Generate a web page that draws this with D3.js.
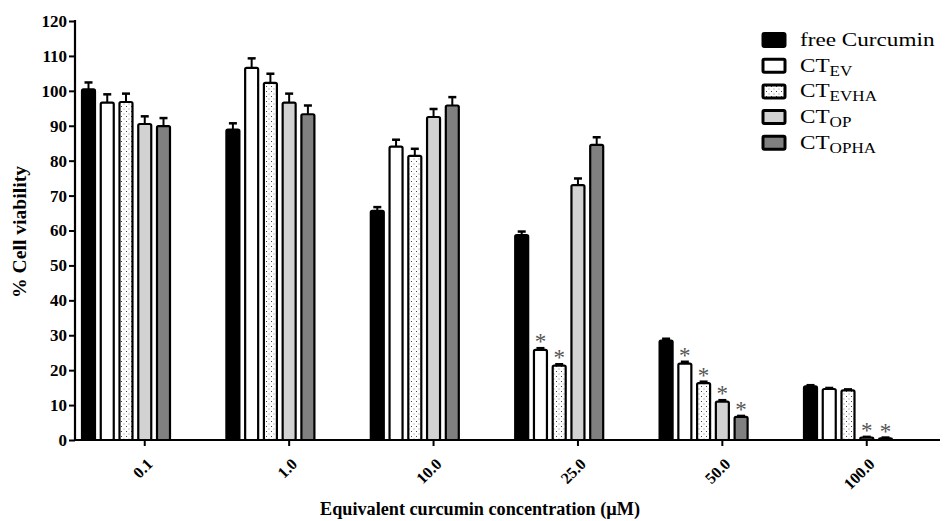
<!DOCTYPE html>
<html><head><meta charset="utf-8">
<script src="https://cdn.jsdelivr.net/npm/d3@7"></script>
<style>
body{margin:0;background:#fff;}
svg{display:block;}
text{font-family:"Liberation Serif","Times New Roman",serif;}
</style></head>
<body><svg id="chart" width="946" height="521"></svg>
<script>
const categories = ["0.1","1.0","10.0","25.0","50.0","100.0"];
const seriesKeys = ["free","EV","EVHA","OP","OPHA"];
const seriesNames = ["free Curcumin","CT|EV","CT|EVHA","CT|OP","CT|OPHA"];
const freeCurcumin = [100.4, 88.9, 65.6, 58.7, 28.5, 15.4];
const ctEV        = [96.6, 106.6, 84.0, 25.8, 21.9, 14.6];
const ctEVHA      = [96.8, 102.3, 81.4, 21.3, 16.3, 14.2];
const ctOP        = [90.5, 96.6, 92.5, 73.0, 11.0, 0.7];
const ctOPHA      = [89.9, 93.3, 95.8, 84.5, 6.6, 0.5];
const freeErr = [2.0, 1.8, 1.1, 1.0, 0.5, 0.3];
const evErr   = [2.4, 2.7, 2.0, 0.5, 0.5, 0.3];
const evhaErr = [2.4, 2.6, 2.0, 0.4, 0.4, 0.3];
const opErr   = [2.2, 2.6, 2.3, 1.9, 0.4, 0.2];
const ophaErr = [2.3, 2.5, 2.4, 2.2, 0.3, 0.2];
const sigEV   = [0,0,0,1,1,0];
const sigEVHA = [0,0,0,1,1,0];
const sigOP   = [0,0,0,0,1,1];
const sigOPHA = [0,0,0,0,1,1];
const yTicks = [0,10,20,30,40,50,60,70,80,90,100,110,120];

const values = [freeCurcumin, ctEV, ctEVHA, ctOP, ctOPHA];
const errs = [freeErr, evErr, evhaErr, opErr, ophaErr];
const sigs = [null, sigEV, sigEVHA, sigOP, sigOPHA];
const fills = ["#000000","#ffffff","url(#dots)","#d2d2d2","#808080"];
const FONT = "Liberation Serif";

const svg = d3.select("#chart");
const defs = svg.append("defs");
const pat = defs.append("pattern").attr("id","dots").attr("patternUnits","userSpaceOnUse")
  .attr("width",5).attr("height",5);
pat.append("rect").attr("width",5).attr("height",5).attr("fill","#fff");
pat.append("rect").attr("x",1).attr("y",1).attr("width",1).attr("height",1).attr("fill","#444");
pat.append("rect").attr("x",3.5).attr("y",3.5).attr("width",1).attr("height",1).attr("fill","#888");

const x0 = d3.scaleBand().domain(categories).range([81, 81 + 6*144.4]).padding(0);
const x1 = d3.scaleBand().domain(seriesKeys).range([0, 90]).paddingInner(0.2).paddingOuter(0);
const y = d3.scaleLinear().domain([0,120]).range([440, 21]);

const data = [];
categories.forEach((c,i)=>{
  seriesKeys.forEach((s,j)=>{
    data.push({cat:c, key:s, j, v:values[j][i], e:errs[j][i], sig: sigs[j] ? sigs[j][i] : 0});
  });
});

const bw = x1.bandwidth();
const g = svg.append("g");
const eb = g.selectAll(".eb").data(data).enter().append("g");
eb.append("line")
  .attr("x1", d=>x0(d.cat)+x1(d.key)+bw/2).attr("x2", d=>x0(d.cat)+x1(d.key)+bw/2)
  .attr("y1", d=>y(d.v)).attr("y2", d=>y(d.v+d.e))
  .attr("stroke","#000").attr("stroke-width",2);
eb.append("line")
  .attr("x1", d=>x0(d.cat)+x1(d.key)+bw/2-4).attr("x2", d=>x0(d.cat)+x1(d.key)+bw/2+4)
  .attr("y1", d=>y(d.v+d.e)).attr("y2", d=>y(d.v+d.e))
  .attr("stroke","#000").attr("stroke-width",2.5);
g.selectAll(".bar").data(data).enter().append("rect")
  .attr("x", d=>x0(d.cat)+x1(d.key)+1)
  .attr("y", d=>y(d.v))
  .attr("width", bw-2)
  .attr("height", d=>y(0)-y(d.v))
  .attr("rx",1.5)
  .attr("fill", d=>fills[d.j])
  .attr("stroke","#000").attr("stroke-width",2.2);
g.selectAll(".sig").data(data.filter(d=>d.sig)).enter().append("text")
  .attr("x", d=>x0(d.cat)+x1(d.key)+bw/2)
  .attr("y", d=>y(d.v+d.e)+1)
  .attr("text-anchor","middle").attr("font-family",FONT)
  .attr("font-size",23).attr("fill","#555")
  .text("*");

const yAxis = d3.axisLeft(y).tickValues(yTicks).tickSize(6).tickSizeOuter(0).tickPadding(2);
const ya = svg.append("g").attr("transform","translate(75,0)").call(yAxis);
ya.attr("font-family",FONT);
ya.select(".domain").attr("stroke-width",2.2).attr("d","M0,441V20");
ya.selectAll(".tick line").attr("stroke-width",2);
ya.selectAll("text").attr("font-size",17).attr("font-weight","bold").attr("font-family",FONT).attr("fill","#000");

const xTickPos = c => x0(c)+x1("OP")+bw/2;
const xa = svg.append("g");
xa.append("line").attr("x1",74).attr("x2",940).attr("y1",440).attr("y2",440).attr("stroke","#000").attr("stroke-width",2.2);
xa.selectAll(".xt").data(categories).enter().append("line")
  .attr("x1",xTickPos).attr("x2",xTickPos).attr("y1",440).attr("y2",446)
  .attr("stroke","#000").attr("stroke-width",2);
xa.selectAll(".xl").data(categories).enter().append("text")
  .attr("transform", c=>`translate(${xTickPos(c)+9},${465}) rotate(-45)`)
  .attr("text-anchor","end").attr("font-family",FONT)
  .attr("font-size",16).attr("font-weight","bold")
  .text(c=>c);

svg.append("text").attr("x",480).attr("y",515).attr("text-anchor","middle").attr("font-family",FONT)
  .attr("font-size",18).attr("font-weight","bold")
  .attr("textLength",320).attr("lengthAdjust","spacingAndGlyphs")
  .text("Equivalent curcumin concentration (\u00b5M)");
svg.append("text").attr("transform","translate(26,232) rotate(-90)").attr("text-anchor","middle").attr("font-family",FONT)
  .attr("font-size",19).attr("font-weight","bold")
  .attr("textLength",132).attr("lengthAdjust","spacingAndGlyphs")
  .text("% Cell viability");

const lg = svg.append("g");
seriesNames.forEach((n,j)=>{
  const yy = 40 + j*25.7;
  lg.append("rect").attr("x",763).attr("y",yy-6.5).attr("width",22).attr("height",13).attr("rx",1.5)
    .attr("fill",fills[j]).attr("stroke","#000").attr("stroke-width",3);
  const t = lg.append("text").attr("transform",`translate(800,${yy+6}) scale(1.22,1)`)
    .attr("font-size",19).attr("font-family",FONT);
  const parts = n.split("|");
  t.append("tspan").text(parts[0]);
  if(parts[1]) t.append("tspan").attr("dy",4).attr("font-size",14).text(parts[1]);
});
</script></body></html>
